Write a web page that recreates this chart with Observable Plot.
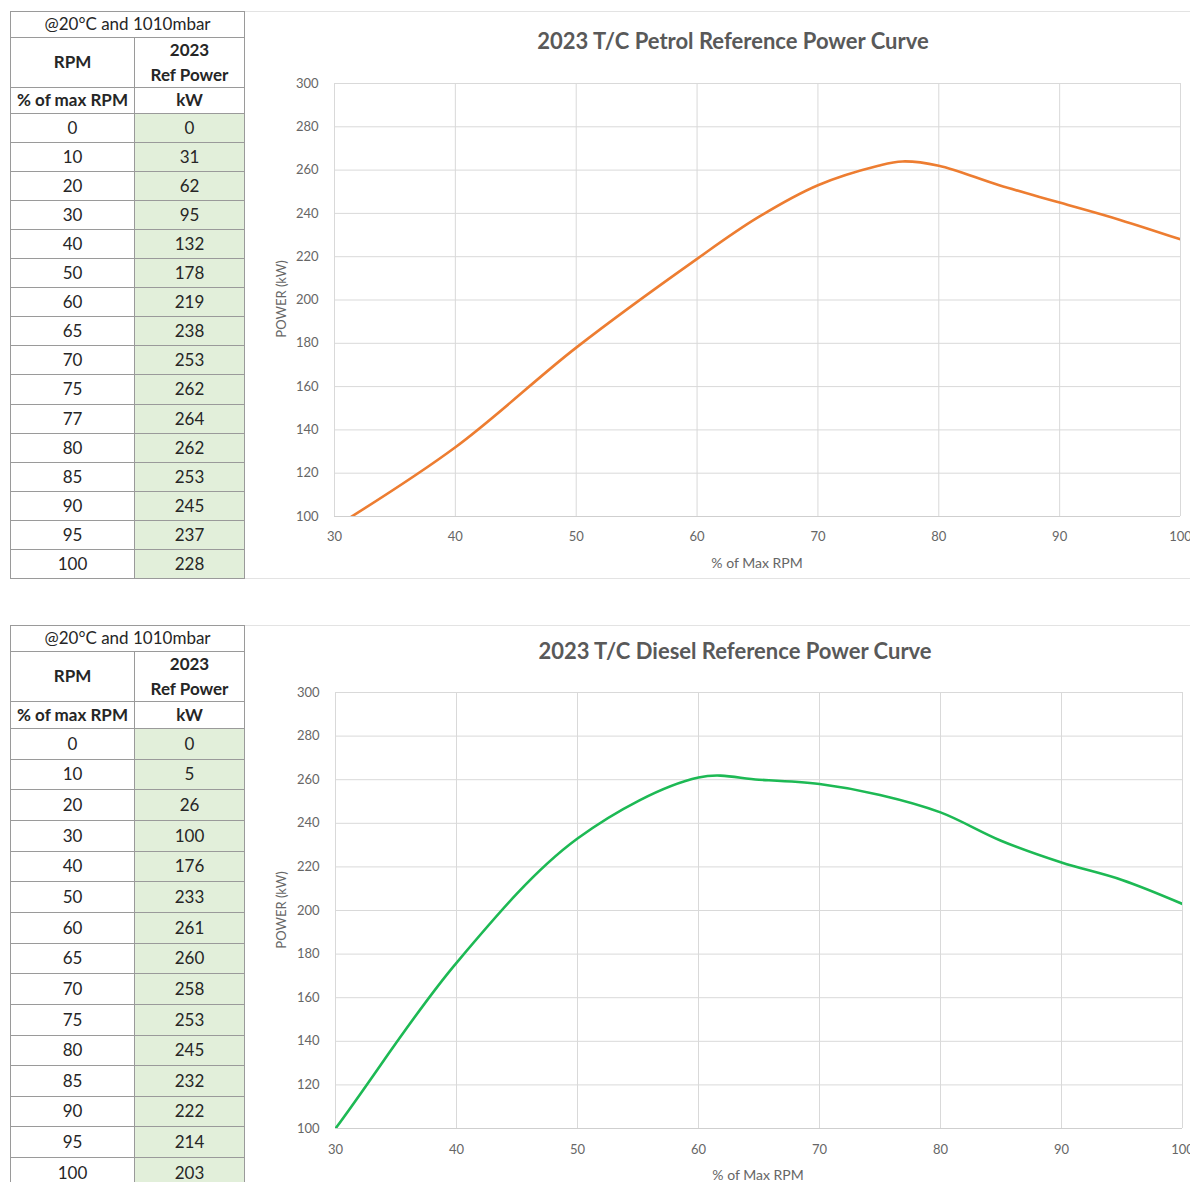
<!DOCTYPE html>
<html><head><meta charset="utf-8">
<script src="https://cdn.jsdelivr.net/npm/d3@7"></script>
<script src="https://cdn.jsdelivr.net/npm/@observablehq/plot@0.6"></script>
<style>
html,body{margin:0;padding:0;background:#fff;}
body{width:1190px;height:1182px;overflow:hidden;position:relative;font-family:Lato,"Open Sans",sans-serif;}
.cell{position:absolute;box-sizing:border-box;border:1px solid #9a9a9a;display:flex;align-items:center;justify-content:center;text-align:center;font-size:17px;color:#262626;line-height:1.45;}
.b{font-weight:bold;}
.g{background:#e2efda;}
.title{position:absolute;transform:translate(-50%,-50%);font-size:22px;font-weight:bold;color:#595959;white-space:nowrap;}
.xlab{position:absolute;transform:translate(-50%,-50%);font-size:14px;color:#666;white-space:nowrap;}
.ylab{position:absolute;transform:translate(-50%,-50%) rotate(-90deg);font-size:13px;color:#666;white-space:nowrap;}
.hl{position:absolute;height:0;border-top:1px solid #e3e3e3;}
.chart{position:absolute;}
.chart svg{overflow:visible;}
</style>
</head><body>
<script>
// ---- data ----
const petrolRpm = [0, 10, 20, 30, 40, 50, 60, 65, 70, 75, 77, 80, 85, 90, 95, 100];
const petrolKW  = [0, 31, 62, 95, 132, 178, 219, 238, 253, 262, 264, 262, 253, 245, 237, 228];
const dieselRpm = [0, 10, 20, 30, 40, 50, 60, 65, 70, 75, 80, 85, 90, 95, 100];
const dieselKW  = [0, 5, 26, 100, 176, 233, 261, 260, 258, 253, 245, 232, 222, 214, 203];
const conditionsLabel = "@20°C and 1010mbar";
const colHeads = ["RPM", "2023<br>Ref Power"];
const unitHeads = ["% of max RPM", "kW"];
const xTicks = [30, 40, 50, 60, 70, 80, 90, 100];
const yTicks = [100, 120, 140, 160, 180, 200, 220, 240, 260, 280, 300];
const titles = ["2023 T/C Petrol Reference Power Curve", "2023 T/C Diesel Reference Power Curve"];
const xLabel = "% of Max RPM";
const yLabel = "POWER (kW)";

function cell(x, y, w, h, html, cls) {
  const d = document.createElement("div");
  d.className = "cell " + (cls || "");
  Object.assign(d.style, {left: x + "px", top: y + "px", width: (w + 1) + "px", height: (h + 1) + "px"});
  d.innerHTML = html;
  document.body.appendChild(d);
}
function div(cls, x, y, html, extra) {
  const d = document.createElement("div");
  d.className = cls;
  Object.assign(d.style, {left: x + "px", top: y + "px"}, extra || {});
  d.innerHTML = html;
  document.body.appendChild(d);
  return d;
}

function table(top, hdr, rowH, rpm, kw) {
  const x0 = 10, x1 = 134, x2 = 244;
  let y = top;
  cell(x0, y, x2 - x0, hdr[0], conditionsLabel, "");
  y += hdr[0];
  cell(x0, y, x1 - x0, hdr[1], colHeads[0], "b");
  cell(x1, y, x2 - x1, hdr[1], colHeads[1], "b");
  y += hdr[1];
  cell(x0, y, x1 - x0, hdr[2], unitHeads[0], "b");
  cell(x1, y, x2 - x1, hdr[2], unitHeads[1], "b");
  y += hdr[2];
  rpm.forEach((r, i) => {
    const yy = Math.round(y + i * rowH);
    const hh = Math.round(y + (i + 1) * rowH) - yy;
    cell(x0, yy, x1 - x0, hh, String(r), "");
    cell(x1, yy, x2 - x1, hh, String(kw[i]), "g");
  });
}

function chart(opts) {
  const data = opts.rpm.map((r, i) => ({rpm: r, kw: opts.kw[i]}));
  const p = Plot.plot({
    width: 945, height: opts.height,
    marginLeft: opts.ml, marginRight: opts.mr, marginTop: opts.mt, marginBottom: opts.mb,
    style: {fontFamily: "Lato, 'Open Sans', sans-serif", fontSize: "13px", color: "#666", background: "transparent"},
    x: {domain: [30, 100], label: null},
    y: {domain: [100, 300], label: null},
    marks: [
      Plot.gridX(xTicks, {stroke: "#d9d9d9", strokeOpacity: 1, strokeWidth: 1}),
      Plot.gridY(yTicks, {stroke: "#d9d9d9", strokeOpacity: 1, strokeWidth: 1}),
      Plot.ruleY([100], {stroke: "#cfcfcf", strokeWidth: 1}),
      Plot.axisX({ticks: xTicks, tickSize: 0, tickPadding: opts.xpad, label: null, fill: "#666"}),
      Plot.axisY({ticks: yTicks, tickSize: 0, tickPadding: 16, label: null, fill: "#666"}),
      Plot.line(data, {x: "rpm", y: "kw", stroke: opts.color, strokeWidth: 2.6, curve: "catmull-rom", clip: true})
    ]
  });
  const wrap = document.createElement("div");
  wrap.className = "chart";
  wrap.style.left = "245px";
  wrap.style.top = opts.top + "px";
  wrap.appendChild(p);
  document.body.appendChild(wrap);
}

// ---- top panel (petrol) ----
table(11, [26, 50, 26], 29.05, petrolRpm, petrolKW);
div("hl", 245, 11, "", {width: "945px"});
div("hl", 245, 578, "", {width: "945px"});
chart({rpm: petrolRpm, kw: petrolKW, color: "#ED7D31", top: 11, height: 567, ml: 89, mr: 10, mt: 72, mb: 62, xpad: 15});
div("title", 733, 40, titles[0]);
div("xlab", 757, 562, xLabel);
div("ylab", 281, 299, yLabel);

// ---- bottom panel (diesel) ----
table(625, [26, 50, 27], 30.65, dieselRpm, dieselKW);
div("hl", 245, 625, "", {width: "945px"});
chart({rpm: dieselRpm, kw: dieselKW, color: "#1DB954", top: 625, height: 557, ml: 90, mr: 8, mt: 67, mb: 54, xpad: 16});
div("title", 735, 650, titles[1]);
div("xlab", 758, 1174, xLabel);
div("ylab", 281, 910, yLabel);
</script>
</body></html>
